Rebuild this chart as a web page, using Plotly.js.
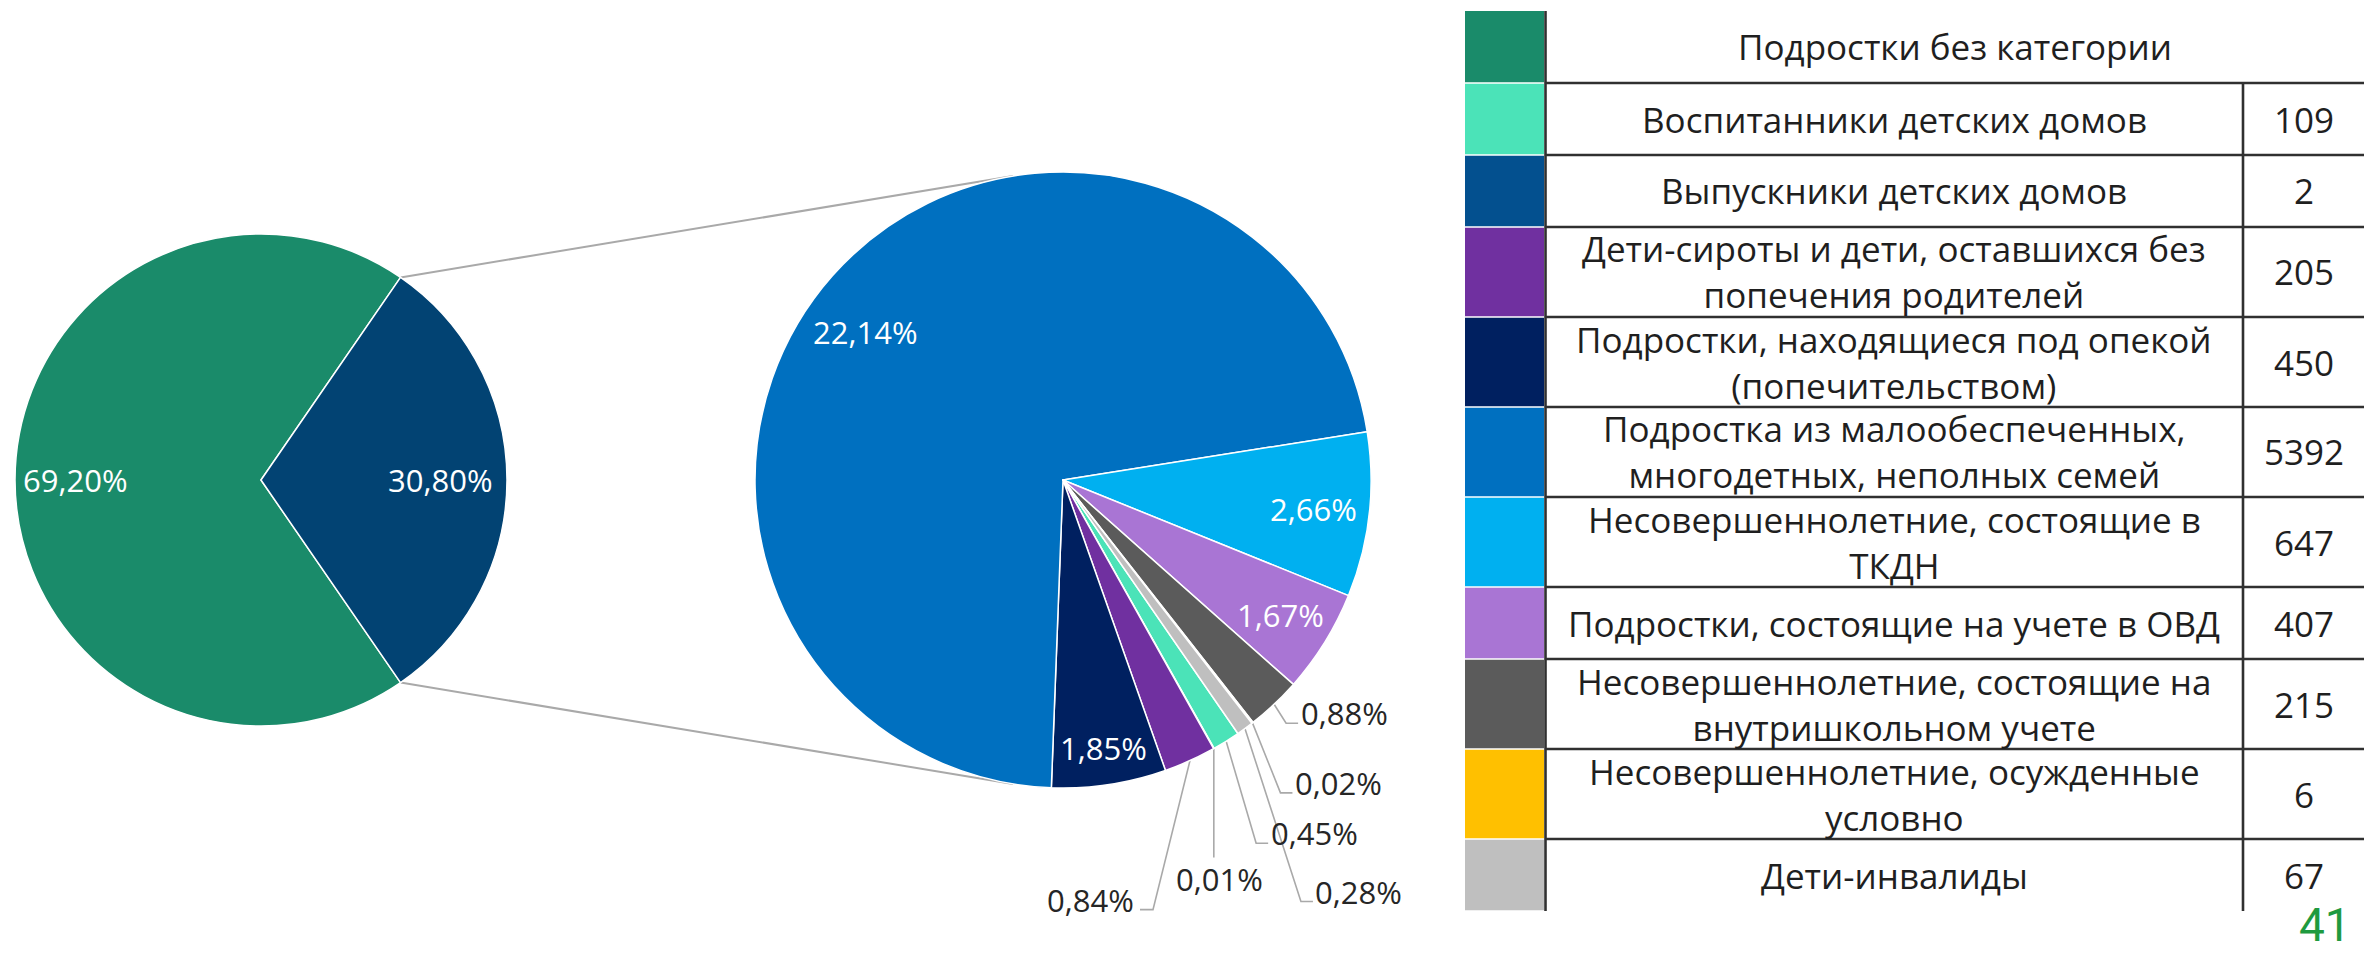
<!DOCTYPE html>
<html>
<head>
<meta charset="utf-8">
<script src="https://cdn.plot.ly/plotly-3.0.1.min.js"></script>
<style>
  html, body { margin: 0; padding: 0; background: #ffffff; }
  #chart { width: 2364px; height: 953px; }
</style>
</head>
<body>
<div id="chart"></div>
<script>
// ---------------- DATA ----------------
const categories = [
  "Подростки без категории",
  "Воспитанники детских домов",
  "Выпускники детских домов",
  "Дети-сироты и дети, оставшихся без<br>попечения родителей",
  "Подростки, находящиеся под опекой<br>(попечительством)",
  "Подростка из малообеспеченных,<br>многодетных, неполных семей",
  "Несовершеннолетние, состоящие в<br>ТКДН",
  "Подростки, состоящие на учете в ОВД",
  "Несовершеннолетние, состоящие на<br>внутришкольном учете",
  "Несовершеннолетние, осужденные<br>условно",
  "Дети-инвалиды"
];
// count of the first category is not printed in the table; estimated from the 69,20% share
const noCategoryCount = 16851;
const detailValues = [109, 2, 205, 450, 5392, 647, 407, 215, 6, 67];
const mainLabels = ["Подростки без категории", "Подростки с категорией"];

// ---------------- STYLE ----------------
const mainColors = ["#1A8B6A", "#024373"];
const detailColors = ["#4BE3B8", "#03508F", "#7030A0", "#002060", "#0070C0",
                      "#00B0F0", "#A975D4", "#5B5B5B", "#FFC000", "#BFBFBF"];
const W = 2364, H = 953;
const FONT = '"Open Sans", "DejaVu Sans", sans-serif';
const px = x => x / W;
const py = y => 1 - y / H;

const detailCategories = categories.slice(1);
const mainValues = [noCategoryCount, detailValues.reduce((a, b) => a + b, 0)];
const grandTotal = mainValues[0] + mainValues[1];
const fmtPct = v => (v / grandTotal * 100).toFixed(2).replace('.', ',') + '%';

// pie geometry (pixels)
const PIE1 = {cx: 261, cy: 480, r: 246};
const PIE2 = {cx: 1063, cy: 480, r: 308};
const dom = p => ({x: [px(p.cx - p.r), px(p.cx + p.r)], y: [py(p.cy + p.r), py(p.cy - p.r)]});
const rot1 = 90 + 180 * mainValues[1] / grandTotal;   // detail slice centred at 3 o'clock
const rot2 = 145.4;

function sliceAngles(values, rotation) {
  const tot = values.reduce((a, b) => a + b, 0);
  let a = rotation;
  return values.map(v => { const s = a; a += v / tot * 360; return {start: s, end: a, mid: (s + a) / 2}; });
}
const polar = (p, deg, f) => [p.cx + f * p.r * Math.sin(deg * Math.PI / 180),
                              p.cy - f * p.r * Math.cos(deg * Math.PI / 180)];

const traces = [
  {
    type: 'pie', values: mainValues, labels: mainLabels, sort: false,
    direction: 'clockwise', rotation: rot1, textinfo: 'none',
    marker: {colors: mainColors, line: {color: '#ffffff', width: 1.5}},
    domain: dom(PIE1), showlegend: false
  },
  {
    type: 'pie', values: detailValues,
    labels: detailCategories.map(s => s.replace(/<br>/g, ' ')), sort: false,
    direction: 'clockwise', rotation: rot2, textinfo: 'none',
    marker: {colors: detailColors, line: {color: '#ffffff', width: 1.5}},
    domain: dom(PIE2), showlegend: false
  }
];

const shapes = [];
const annotations = [];
const LINE_GREY = '#A9A9A9';

// ---- percentage labels, main pie ----
const a1 = sliceAngles(mainValues, rot1);
const main_f = [0.756, 0.73];
a1.forEach((s, i) => {
  const [x, y] = polar(PIE1, s.mid, main_f[i]);
  annotations.push({xref: 'paper', yref: 'paper', x: px(x), y: py(y), text: fmtPct(mainValues[i]),
    showarrow: false, xanchor: 'center', yanchor: 'middle',
    font: {family: FONT, size: 31, color: '#ffffff'}});
});

// ---- connector lines between the pies ----
[[a1[1].start, 360 - 9.3], [a1[1].end, 180 + 9.3]].forEach(([ang1, ang2]) => {
  const [x0, y0] = polar(PIE1, ang1, 1);
  const [x1, y1] = polar(PIE2, ang2, 1);
  shapes.push({type: 'line', xref: 'paper', yref: 'paper', x0: px(x0), y0: py(y0), x1: px(x1), y1: py(y1),
    line: {color: LINE_GREY, width: 2}, layer: 'below'});
});

// ---- percentage labels, detail pie ----
const a2 = sliceAngles(detailValues, rot2);
const place2 = [
  {out: 'right', dx: 88, dy: 92},
  {out: 'below', dx: 6, dy: 130},
  {out: 'left', dx: -100, dy: 139},
  {f: 0.88},
  {f: 0.80, nx: -13, ny: 16},
  {f: 0.82},
  {f: 0.83},
  {out: 'right', dx: 70, dy: 9},
  {out: 'right', dx: 86, dy: 60},
  {out: 'right', dx: 114, dy: 163}
];
a2.forEach((s, i) => {
  const pl = place2[i];
  const txt = fmtPct(detailValues[i]);
  if (pl.out) {
    const [ex, ey] = polar(PIE2, s.mid, 1);
    const lx = ex + pl.dx, ly = ey + pl.dy;
    let pts;
    if (pl.out === 'right') pts = [[ex, ey], [lx - 58, ly + 10], [lx - 46, ly + 10]];
    else if (pl.out === 'left') pts = [[ex, ey], [lx + 63, ly + 10], [lx + 50, ly + 10]];
    else pts = [[ex, ey], [ex, ly - 21]];
    const path = pts.map((p, k) => (k ? 'L' : 'M') + px(p[0]).toFixed(5) + ',' + py(p[1]).toFixed(5)).join(' ');
    shapes.push({type: 'path', xref: 'paper', yref: 'paper', path: path,
      line: {color: LINE_GREY, width: 1.6}, layer: 'below'});
    annotations.push({xref: 'paper', yref: 'paper', x: px(lx), y: py(ly), text: txt,
      showarrow: false, xanchor: 'center', yanchor: 'middle',
      font: {family: FONT, size: 31, color: '#262626'}});
  } else {
    const [x, y] = polar(PIE2, s.mid, pl.f);
    annotations.push({xref: 'paper', yref: 'paper', x: px(x + (pl.nx || 0)), y: py(y + (pl.ny || 0)), text: txt,
      showarrow: false, xanchor: 'center', yanchor: 'middle',
      font: {family: FONT, size: 31, color: '#ffffff'}});
  }
});

// ---------------- TABLE ----------------
const T = {top: 11, swatchX0: 1465, swatchX1: 1544, divX: 1545.5, valX: 2243, right: 2368,
           rowSingle: 72, rowDouble: 90, border: '#303030', fontSize: 35};
const tableColors = [mainColors[0]].concat(detailColors);
const tableValues = [''].concat(detailValues.map(String));
let yTop = T.top;
const rowTops = [];
categories.forEach((c, i) => {
  const nLines = c.split('<br>').length;
  const h = nLines > 1 ? T.rowDouble : T.rowSingle;
  rowTops.push(yTop);
  const yc = yTop + h / 2;
  // colour swatch
  shapes.push({type: 'rect', xref: 'paper', yref: 'paper',
    x0: px(T.swatchX0), x1: px(T.swatchX1), y0: py(yTop + (i ? 0.8 : 0)), y1: py(yTop + h - 0.8),
    fillcolor: tableColors[i], line: {width: 0}, layer: 'above'});
  // label text (first row spans the value column)
  const xc = i === 0 ? (T.divX + W) / 2 : (T.divX + T.valX) / 2;
  annotations.push({xref: 'paper', yref: 'paper', x: px(xc), y: py(yc), text: c,
    showarrow: false, xanchor: 'center', yanchor: 'middle', align: 'center',
    font: {family: FONT, size: T.fontSize, color: '#1f1f1f'}});
  if (tableValues[i] !== '') {
    annotations.push({xref: 'paper', yref: 'paper', x: px((T.valX + W) / 2), y: py(yc), text: tableValues[i],
      showarrow: false, xanchor: 'center', yanchor: 'middle',
      font: {family: FONT, size: T.fontSize, color: '#1f1f1f'}});
  }
  yTop += h;
});
const tableBottom = yTop;
// horizontal row borders
rowTops.slice(1).forEach(y => {
  shapes.push({type: 'line', xref: 'paper', yref: 'paper', x0: px(T.divX), x1: px(T.right), y0: py(y), y1: py(y),
    line: {color: T.border, width: 2.6}, layer: 'above'});
});
// vertical borders
shapes.push({type: 'line', xref: 'paper', yref: 'paper', x0: px(T.divX), x1: px(T.divX), y0: py(T.top), y1: py(tableBottom),
  line: {color: T.border, width: 2.6}, layer: 'above'});
shapes.push({type: 'line', xref: 'paper', yref: 'paper', x0: px(T.valX), x1: px(T.valX), y0: py(rowTops[1]), y1: py(tableBottom),
  line: {color: T.border, width: 2.6}, layer: 'above'});

// page number
annotations.push({xref: 'paper', yref: 'paper', x: px(2325), y: 0, text: '41', showarrow: false,
  xanchor: 'center', yanchor: 'bottom', borderpad: 0,
  font: {family: '"Liberation Sans Narrow", "Roboto", sans-serif', size: 46, color: '#1F9A3F'}});

const layout = {
  width: W, height: H,
  margin: {l: 0, r: 0, t: 0, b: 0},
  paper_bgcolor: '#ffffff', plot_bgcolor: '#ffffff',
  showlegend: false,
  font: {family: FONT},
  shapes: shapes,
  annotations: annotations
};
Plotly.newPlot('chart', traces, layout, {displayModeBar: false, staticPlot: true});
</script>
</body>
</html>
